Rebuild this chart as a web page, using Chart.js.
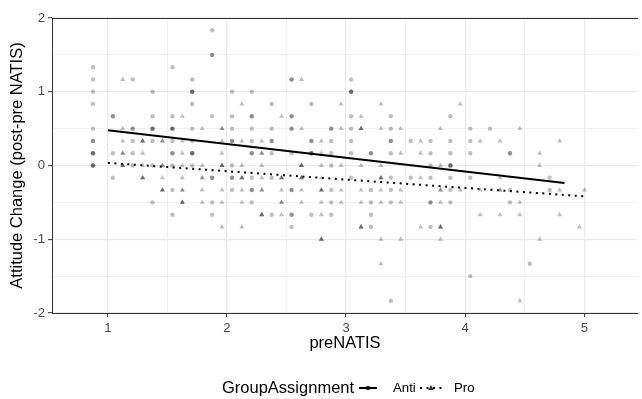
<!DOCTYPE html>
<html>
<head>
<meta charset="utf-8">
<script src="https://cdn.jsdelivr.net/npm/chart.js@4.4.1/dist/chart.umd.min.js"></script>
<style>
  html, body { margin: 0; padding: 0; background: #fff; }
  canvas { display: block; }
</style>
</head>
<body>
<canvas id="myChart" width="642" height="399"></canvas>
<script>
// preNATIS column values and the attitude change values found at each column
var antiPre = [0.875, 1.042, 1.208, 1.375, 1.542, 1.708, 1.875, 2.042, 2.208, 2.375, 2.542, 2.708,
	2.875, 3.042, 3.208, 3.375, 3.542, 3.708, 3.875, 4.042, 4.208, 4.375, 4.542, 4.708];
var antiChange = [
	[1.333, 1.167, 1, 0.833, 0.5, 0.333, 0.333, 0.167, 0.167, 0.167, 0, 0, 0],
	[0.667, 0.667, 0.167, -0.167],
	[1.167, 0.5, 0.5, 0.333, 0.167, 0],
	[1, 0.667, 0.5, 0.5, 0.5, 0.333, 0, -0.5],
	[1.333, 0.667, 0.5, 0.5, 0.5, 0.333, 0.167, 0.167, 0, -0.333, -0.667],
	[1.167, 1, 1, 1, 0.833, 0.5, 0.333, 0.167, 0.167, 0.167, 0],
	[1.833, 1.5, 1.5, 0.667, -0.167, -0.167, -0.5, -0.667],
	[1, 0.667, 0.5, 0.333, 0.333, 0, -0.167, -0.167, -0.333],
	[1, 0.667, 0.667, 0.5, 0.333, 0.167, 0.167, -0.167, -0.333, -0.333, -0.5],
	[0.833, 0.5, 0.333, 0.333, 0.167, -0.167, -0.667],
	[1.167, 1.167, 0.667, 0.667, 0.5, 0.5, 0.167, -0.333, -0.333, -0.667, -0.667, -0.833],
	[0.833, 0.333, 0.333, 0.167, 0.167, 0.167, -0.667],
	[0.5, 0.5, 0.333, 0.167, 0, -0.333, -0.5, -0.667],
	[1.167, 1, 1, 1, 0.667, 0.5, 0.333, 0.167, -0.167],
	[0.167, 0.167, -0.333, -0.5, -0.667, -0.833],
	[0.667, 0.5, 0.333, 0.333, 0.167, -0.167, -0.333, -0.5, -1.833],
	[0.333, -0.167],
	[0.333, 0.167, 0, -0.167, -0.5, -0.5, -0.833],
	[0.667, 0.333, 0.167, 0, 0, 0, -0.167, -0.333, -0.5],
	[0.5, 0.333, 0.167, -0.167, -1.5],
	[0.5],
	[0.167, 0.167, -0.333, -0.5],
	[-1.333],
	[-0.167, -0.333]
];

var proPre = [1.125, 1.292, 1.458, 1.625, 1.792, 1.958, 2.125, 2.292, 2.458, 2.625, 2.792, 2.958,
	3.125, 3.292, 3.458, 3.625, 3.792, 3.958, 4.125, 4.292, 4.458, 4.625, 4.792, 4.958, 5.0];
var proChange = [
	[1.167, 0.5, 0.333, 0.167, 0.167, 0, 0, 0],
	[0.333, 0.333, 0.333, 0.167, 0, -0.167, -0.167, -0.167],
	[0.333, 0.333, 0, 0, -0.167, -0.333, -0.333, -0.333],
	[0.667, 0.333, 0.167, 0, -0.167, -0.333, -0.333, -0.5, -0.5, -0.5],
	[0.5, 0, -0.167, -0.167, -0.333, -0.5],
	[0.5, 0.5, 0.333, 0.167, 0, 0, 0, -0.333, -0.5, -0.833],
	[0.833, 0.333, 0, -0.167, -0.167, -0.167, -0.333, -0.5, -0.833],
	[0.333, 0.167, 0.167, 0, -0.167, -0.333, -0.333, -0.667, -0.667, -0.667],
	[0.667, -0.167, -0.167, -0.167, -0.333, -0.5, -0.5, -0.667],
	[1.167, 0.5, 0, 0, 0, -0.167, -0.167, -0.167, -0.333, -0.5],
	[0.333, 0.167, 0, -0.167, -0.333, -0.333, -0.333, -0.5, -0.667, -1, -1, -1],
	[0.833, 0.5, 0, -0.333, -0.5],
	[0.667, 0.5, 0.5, 0.5, 0, -0.333, -0.5, -0.833, -0.833, -0.833],
	[0.833, 0.5, 0, -0.167, -0.167, -0.167, -0.333, -0.5, -1, -1.333],
	[0.5, 0.167, -0.333, -0.5, -1],
	[0.333, 0.167, -0.167, -0.833],
	[0.5, 0, -0.333, -0.333, -0.5, -0.833, -0.833, -0.833, -1],
	[0.833, -0.333],
	[0.333, -0.333, -0.667],
	[0.333, -0.167, -0.333, -0.333, -0.667],
	[0.5, -0.5, -0.667, -1.833],
	[0.167, 0, -1],
	[0.333, -0.333, -0.667],
	[-0.833],
	[-0.333]
];

// fitted lines (ends)
var antiFitPre = [1, 4.833];
var antiFitChange = [0.477, -0.236];
var proFitPre = [1, 5];
var proFitChange = [0.036, -0.418];

var xTicks = [1, 1.5, 2, 2.5, 3, 3.5, 4, 4.5, 5];
var xLabel = 'preNATIS';
var yLabel = 'Attitude Change (post-pre NATIS)';
var legendTitle = 'GroupAssignment';
var groupNames = ['Anti', 'Pro'];

var FONT = '"Liberation Sans", Arial, Helvetica, sans-serif';

function toPoints(pre, change) {
	var out = [];
	for (var i = 0; i < pre.length; i++) {
		for (var j = 0; j < change[i].length; j++) {
			out.push({x: pre[i], y: change[i][j]});
		}
	}
	return out;
}

function toLine(xs, ys) {
	var out = [];
	for (var i = 0; i < xs.length; i++) out.push({x: xs[i], y: ys[i]});
	return out;
}

function isMajor(ctx) {
	return ctx.tick && Math.abs(ctx.tick.value - Math.round(ctx.tick.value)) < 1e-9;
}

// top panel border + legend at the bottom
var ggExtras = {
	id: 'ggExtras',
	afterDatasetsDraw: function(chart) {
		var c = chart.ctx, a = chart.chartArea;
		c.save();
		c.strokeStyle = '#333333';
		c.lineWidth = 1;
		c.beginPath();
		c.moveTo(a.left, a.top + 0.5);
		c.lineTo(a.right, a.top + 0.5);
		c.stroke();
		c.restore();
	},
	afterDraw: function(chart) {
		var c = chart.ctx;
		var y = 388;
		c.save();
		c.textBaseline = 'middle';
		c.fillStyle = '#000';
		c.font = '16.5px ' + FONT;
		c.fillText(legendTitle, 222, y);

		// Anti key
		c.strokeStyle = '#000';
		c.lineWidth = 2;
		c.beginPath();
		c.moveTo(359, y);
		c.lineTo(377, y);
		c.stroke();
		c.fillStyle = 'rgba(0,0,0,0.8)';
		c.beginPath();
		c.arc(368, y, 2.2, 0, Math.PI * 2);
		c.fill();

		// Pro key
		c.setLineDash([2, 4.5]);
		c.beginPath();
		c.moveTo(420, y);
		c.lineTo(442, y);
		c.stroke();
		c.setLineDash([]);
		c.beginPath();
		c.moveTo(431, y - 3);
		c.lineTo(433.8, y + 2);
		c.lineTo(428.2, y + 2);
		c.closePath();
		c.fill();

		c.fillStyle = '#000';
		c.font = '13.2px ' + FONT;
		c.fillText(groupNames[0], 393, y);
		c.fillText(groupNames[1], 454, y);
		c.restore();
	}
};

var ctx1 = document.getElementById('myChart').getContext('2d');
new Chart(ctx1, {
	type: 'scatter',
	data: {
		datasets: [{
			label: groupNames[0] + ' fit',
			data: toLine(antiFitPre, antiFitChange),
			showLine: true,
			borderColor: '#000',
			borderWidth: 2,
			pointRadius: 0,
			order: 0
		}, {
			label: groupNames[1] + ' fit',
			data: toLine(proFitPre, proFitChange),
			showLine: true,
			borderColor: '#000',
			borderWidth: 2,
			borderDash: [2, 4.5],
			borderCapStyle: 'butt',
			pointRadius: 0,
			order: 0
		}, {
			label: groupNames[0],
			data: toPoints(antiPre, antiChange),
			pointStyle: 'circle',
			pointRadius: 2.2,
			backgroundColor: 'rgba(0,0,0,0.25)',
			borderWidth: 0,
			order: 1
		}, {
			label: groupNames[1],
			data: toPoints(proPre, proChange),
			pointStyle: 'triangle',
			pointRadius: 2.9,
			backgroundColor: 'rgba(0,0,0,0.25)',
			borderWidth: 0,
			order: 1
		}]
	},
	options: {
		responsive: false,
		animation: false,
		events: [],
		devicePixelRatio: 1,
		layout: { padding: { top: 18, right: 0, bottom: 38, left: 0 } },
		plugins: {
			legend: { display: false },
			tooltip: { enabled: false }
		},
		scales: {
			x: {
				type: 'linear',
				min: 0.531,
				max: 5.45,
				afterBuildTicks: function(scale) {
					scale.ticks = xTicks.map(function(v) { return {value: v}; });
				},
				afterFit: function(scale) { scale.height = 48; },
				ticks: {
					autoSkip: false,
					maxRotation: 0,
					padding: 3,
					color: '#4d4d4d',
					font: { family: FONT, size: 13.2 },
					callback: function(v) { return Number.isInteger(v) ? String(v) : ''; }
				},
				grid: {
					color: '#ebebeb',
					lineWidth: function(ctx) { return isMajor(ctx) ? 1.3 : 0.7; },
					tickLength: 4,
					tickWidth: 1,
					tickColor: function(ctx) { return isMajor(ctx) ? '#333333' : 'rgba(0,0,0,0)'; }
				},
				border: { color: '#333333', width: 1 },
				title: {
					display: true,
					text: xLabel,
					color: '#000',
					font: { family: FONT, size: 16.5 },
					padding: { top: 0, bottom: 8 }
				}
			},
			y: {
				min: -2,
				max: 2,
				afterFit: function(scale) { scale.width = 52; },
				ticks: {
					stepSize: 0.5,
					autoSkip: false,
					padding: 3,
					color: '#4d4d4d',
					font: { family: FONT, size: 13.2 },
					callback: function(v) { return Number.isInteger(v) ? String(v) : ''; }
				},
				grid: {
					color: '#ebebeb',
					lineWidth: function(ctx) { return isMajor(ctx) ? 1.3 : 0.7; },
					tickLength: 4,
					tickWidth: 1,
					tickColor: function(ctx) { return isMajor(ctx) ? '#333333' : 'rgba(0,0,0,0)'; }
				},
				border: { color: '#333333', width: 1 },
				title: {
					display: true,
					text: yLabel,
					color: '#000',
					font: { family: FONT, size: 16.5 },
					padding: { top: 8, bottom: 0 }
				}
			}
		}
	},
	plugins: [ggExtras]
});
</script>
</body>
</html>
